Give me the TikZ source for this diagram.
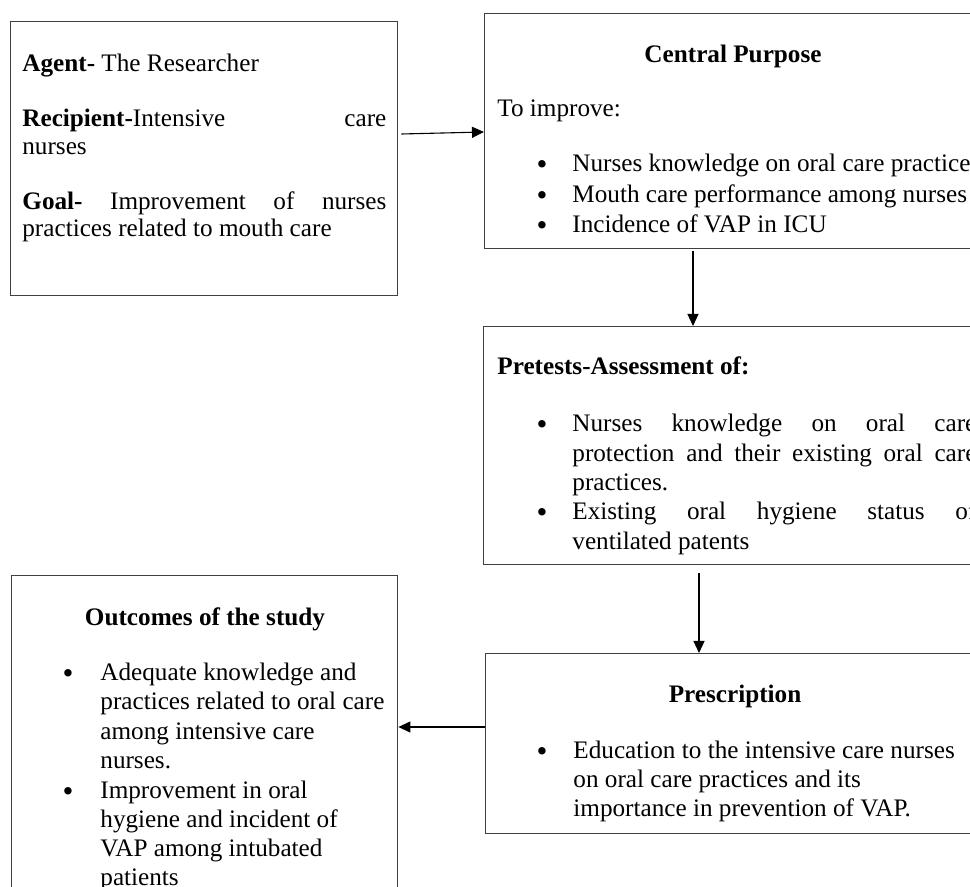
\documentclass[tikz,border=0pt]{standalone}
\usepackage{fontspec}
\setmainfont{Liberation Serif}
\usetikzlibrary{arrows.meta}
\definecolor{boxline}{HTML}{404040}
\begin{document}
\begin{tikzpicture}[x=0.5pt,y=-0.5pt,
 box/.style={draw=boxline, line width=0.7pt, rectangle, anchor=north west, inner sep=0pt},
 txt/.style={inner sep=0pt, anchor=base west, font=\fontsize{12.6pt}{14.65pt}\selectfont},
 head/.style={inner sep=0pt, anchor=base, font=\fontsize{12.6pt}{14pt}\selectfont\bfseries},
 bul/.style={inner sep=0pt, anchor=base, yshift=-1.5pt, font=\fontsize{15.5pt}{16pt}\selectfont},
 arr/.style={draw=black, line width=0.55pt, -{Triangle[length=6pt,width=5.5pt]}}]
\useasboundingbox (0,0) rectangle (970,887);
% boxes
\node[box, minimum width=193.5pt, minimum height=137pt] (agent) at (10,21) {};
\node[box, minimum width=260pt, minimum height=117.5pt] (cp) at (484,13) {};
\node[box, minimum width=260pt, minimum height=119pt] (pre) at (483,326) {};
\node[box, minimum width=260pt, minimum height=90pt] (presc) at (485,653) {};
\node[box, minimum width=193pt, minimum height=165pt] (outc) at (11,575) {};
% box 1 text
\node[txt, font=\fontsize{12.6pt}{13.75pt}\selectfont] (agenttxt) at (22,72) {\parbox[t]{182pt}{%
\textbf{Agent-} The Researcher\par
\vspace{13.75pt}
\makebox[182pt][s]{\textbf{Recipient-}Intensive care}\\
nurses\par
\vspace{13.75pt}
\makebox[182pt][s]{\textbf{Goal-} Improvement of nurses}\\
practices related to mouth care}};
% box 2 text
\node[head] (cphead) at (733,63) {Central Purpose};
\node[txt] (toimp) at (497,117) {To improve:};
\node[bul] (b21) at (542,172) {•};
\node[txt] (i21) at (572,172) {Nurses knowledge on oral care practice};
\node[bul] (b22) at (542,202.5) {•};
\node[txt] (i22) at (572,202.5) {Mouth care performance among nurses};
\node[bul] (b23) at (542,233) {•};
\node[txt] (i23) at (572,233) {Incidence of VAP in ICU};
% box 3 text
\node[txt] (prehead) at (497,375) {\textbf{Pretests-Assessment of:}};
\node[bul] (b31) at (542,432) {•};
\node[txt] (i31) at (572,432) {\parbox[t]{202pt}{%
\makebox[202pt][s]{Nurses knowledge on oral care}\\
\makebox[202pt][s]{protection and their existing oral care}\\
practices.}};
\node[bul] (b32) at (542,520) {•};
\node[txt] (i32) at (572,520) {\parbox[t]{202pt}{%
\makebox[202pt][s]{Existing oral hygiene status of}\\
ventilated patents}};
% box 4 text
\node[head] (prhead) at (735,703) {Prescription};
\node[bul] (b41) at (542,758) {•};
\node[txt] (i41) at (573,758) {\parbox[t]{240pt}{%
Education to the intensive care nurses\\
on oral care practices and its\\
importance in prevention of VAP.}};
% box 5 text
\node[head] (outhead) at (205,625) {Outcomes of the study};
\node[bul] (b51) at (68,680.7) {•};
\node[txt] (i51) at (100,680.7) {\parbox[t]{170pt}{%
Adequate knowledge and\\
practices related to oral care\\
among intensive care\\
nurses.}};
\node[bul] (b52) at (68,798) {•};
\node[txt] (i52) at (100,798) {\parbox[t]{170pt}{%
Improvement in oral\\
hygiene and incident of\\
VAP among intubated\\
patients}};
% connectors
\draw[arr] (agent.east |- 0,134) ++(3,0) -- (cp.west |- 0,132);
\draw[arr] (cp.south -| 693,0) ++(0,2) -- (pre.north -| 693,0);
\draw[arr] (pre.south -| 699,0) ++(0,8) -- (presc.north -| 699,0);
\draw[arr] (presc.west |- 0,727) -- (outc.east |- 0,727);
\end{tikzpicture}
\end{document}
